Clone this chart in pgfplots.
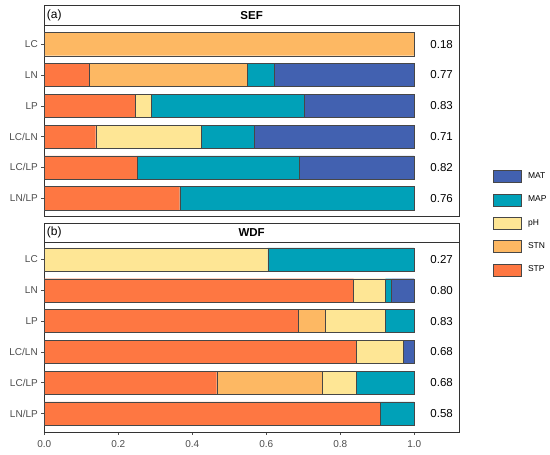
\documentclass[border=0pt]{standalone}
\usepackage{pgfplots}
\pgfplotsset{compat=1.18}
\usepackage{fontspec}
\setmainfont{Liberation Sans}
\definecolor{cMAT}{RGB}{66,97,176}
\definecolor{cMAP}{RGB}{0,161,184}
\definecolor{cpH}{RGB}{254,230,149}
\definecolor{cSTN}{RGB}{253,184,99}
\definecolor{cSTP}{RGB}{254,119,66}
\definecolor{frame}{RGB}{51,51,51}
\definecolor{tickgray}{RGB}{77,77,77}
\tikzset{num/.style={font=\fontsize{11.5}{13}\selectfont, anchor=center}}
\pgfplotsset{
  panel/.style={
    scale only axis, width=414.7pt, height=191pt, anchor=south west,
    xbar stacked, bar width=0.75,
    xmin=0, xmax=1.121, ymin=0.4, ymax=6.6, y dir=reverse,
    ytick={1,2,3,4,5,6}, yticklabels={LC,LN,LP,LC/LN,LC/LP,LN/LP},
    tick align=outside, tick pos=left, major tick length=3pt,
    tick style={color=tickgray, line width=0.5pt},
    y tick label style={font=\fontsize{10}{12}\selectfont, text=tickgray},
    axis line style={draw=frame, line width=0.6pt},
    clip=false,
    every axis plot/.append style={draw=frame!90, line width=0.35pt},
    legend image code/.code={\draw[#1] (0pt,-6pt) rectangle (28pt,6pt);},
  },
}
\begin{document}
\begin{tikzpicture}
\path[use as bounding box] (0,0) rectangle (550pt,455pt);
% ---------- (a) SEF ----------
\begin{axis}[panel, at={(44.3pt,238.3pt)}, xtick=\empty,
  reverse legend,
  legend style={at={(1.082,0.2445)}, anchor=north west, draw=none, fill=none,
    inner sep=0pt, row sep=11pt, column sep=6.5pt,
    font=\fontsize{8.5}{9}\selectfont, nodes={inner sep=0pt, anchor=west}},
  legend cell align=left]
\addplot[fill=cSTP] coordinates {(0,1) (0.1225,2) (0.247,3) (0.139,4) (0.25,5) (0.366,6)};
\addplot[fill=cSTN] coordinates {(1.0,1) (0.4255,2) (0,3) (0,4) (0,5) (0,6)};
\addplot[fill=cpH]  coordinates {(0,1) (0,2) (0.041,3) (0.285,4) (0,5) (0,6)};
\addplot[fill=cMAP] coordinates {(0,1) (0.074,2) (0.414,3) (0.143,4) (0.439,5) (0.634,6)};
\addplot[fill=cMAT] coordinates {(0,1) (0.378,2) (0.298,3) (0.433,4) (0.311,5) (0,6)};
\legend{STP,STN,pH,MAP,MAT}
\node[num] at (axis cs:1.074,1) {0.18};
\node[num] at (axis cs:1.074,2) {0.77};
\node[num] at (axis cs:1.074,3) {0.83};
\node[num] at (axis cs:1.074,4) {0.71};
\node[num] at (axis cs:1.074,5) {0.82};
\node[num] at (axis cs:1.074,6) {0.76};
\end{axis}
% ---------- (b) WDF ----------
\begin{axis}[panel, at={(44.3pt,23pt)},
  xtick={0,0.2,0.4,0.6,0.8,1.0},
  xticklabels={{0.0},{0.2},{0.4},{0.6},{0.8},{1.0}},
  x tick label style={font=\fontsize{10}{12}\selectfont, text=tickgray, yshift=-1.5pt}]
\addplot[fill=cSTP] coordinates {(0,1) (0.836,2) (0.687,3) (0.842,4) (0.466,5) (0.907,6)};
\addplot[fill=cSTN] coordinates {(0,1) (0,2) (0.072,3) (0,4) (0.286,5) (0,6)};
\addplot[fill=cpH]  coordinates {(0.604,1) (0.086,2) (0.162,3) (0.128,4) (0.091,5) (0,6)};
\addplot[fill=cMAP] coordinates {(0.396,1) (0.016,2) (0.079,3) (0,4) (0.157,5) (0.093,6)};
\addplot[fill=cMAT] coordinates {(0,1) (0.062,2) (0,3) (0.030,4) (0,5) (0,6)};
\node[num] at (axis cs:1.074,1) {0.27};
\node[num] at (axis cs:1.074,2) {0.80};
\node[num] at (axis cs:1.074,3) {0.83};
\node[num] at (axis cs:1.074,4) {0.68};
\node[num] at (axis cs:1.074,5) {0.68};
\node[num] at (axis cs:1.074,6) {0.58};
\end{axis}
% ---------- strips ----------
\draw[frame, line width=0.6pt, fill=white] (44.3pt,429.5pt) rectangle (459pt,450pt);
\node[anchor=west, inner sep=0pt, font=\fontsize{12}{14}\selectfont] at (46.7pt,439.75pt) {(a)};
\node[inner sep=0pt, font=\fontsize{11.5}{13}\selectfont\bfseries] at (251.6pt,439.75pt) {SEF};
\draw[frame, line width=0.6pt, fill=white] (44.3pt,212.7pt) rectangle (459pt,232pt);
\node[anchor=west, inner sep=0pt, font=\fontsize{12}{14}\selectfont] at (46.7pt,222.35pt) {(b)};
\node[inner sep=0pt, font=\fontsize{11.5}{13}\selectfont\bfseries] at (251.6pt,222.35pt) {WDF};
\end{tikzpicture}
\end{document}
